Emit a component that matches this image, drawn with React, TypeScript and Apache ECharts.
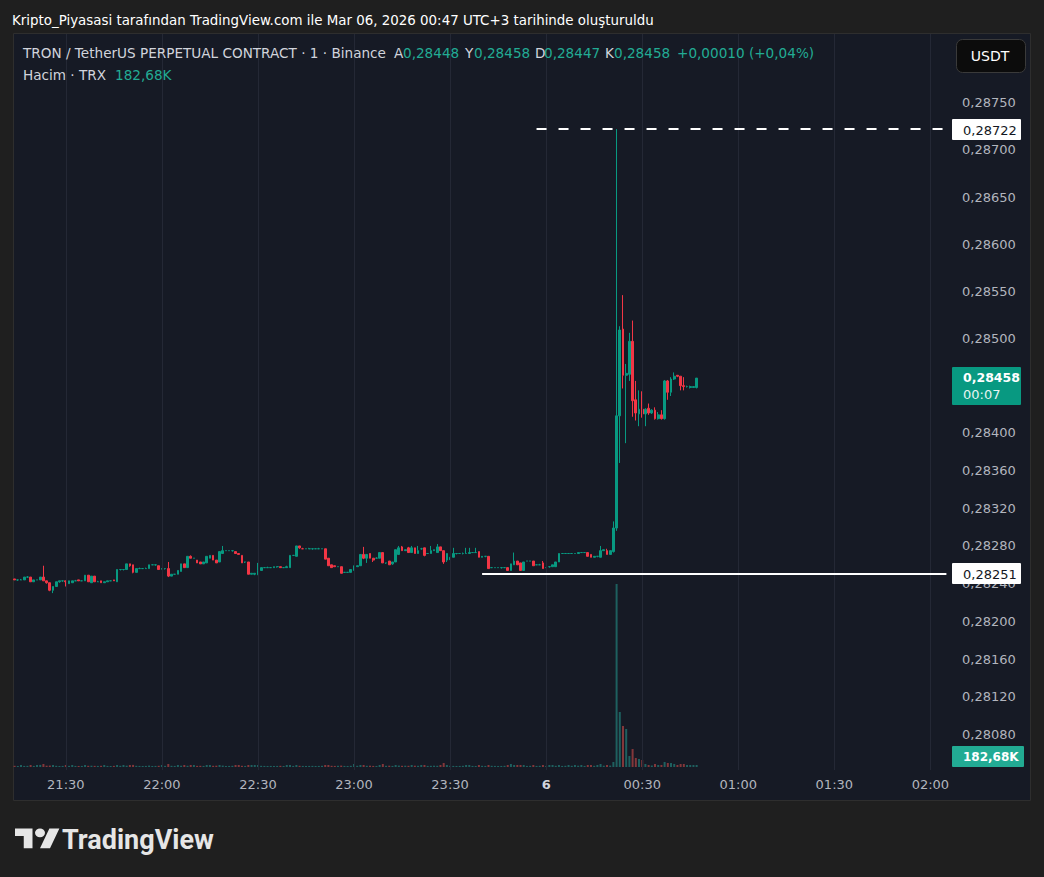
import React, { useEffect, useRef } from 'react';
import * as echarts from 'echarts';

// ---------- categories: one slot per minute, 21:14 .. 02:05 ----------
const START_MINUTE = 21 * 60 + 14;
const SLOT_COUNT = 292;
const times: string[] = Array.from({ length: SLOT_COUNT }, (_, k) => {
  const m = (START_MINUTE + k) % 1440;
  return String(Math.floor(m / 60)).padStart(2, '0') + ':' + String(m % 60).padStart(2, '0');
});

// ---------- tick labels ----------
const timeTicks = ['21:30', '22:00', '22:30', '23:00', '23:30', '00:00', '00:30', '01:00', '01:30', '02:00'];
// grid lines of the price scale
const priceTicks = [
  0.288, 0.2875, 0.287, 0.2865, 0.286, 0.2855, 0.285, 0.2845, 0.284,
  0.2836, 0.2832, 0.2828, 0.2824, 0.282, 0.2816, 0.2812, 0.2808,
];
// labels that are visible on the price scale (0,28800 and 0,28450 sit under the button / badge)
const priceLabels = [
  0.2875, 0.287, 0.2865, 0.286, 0.2855, 0.285, 0.284,
  0.2836, 0.2832, 0.2828, 0.2824, 0.282, 0.2816, 0.2812, 0.2808,
];

// ---------- 1-minute candles: [open, close, low, high] ----------
const candles: number[][] = [
  [.28245,.28244,.28244,.28245],[.28244,.28244,.28243,.28244],[.28244,.28244,.28244,.28245],[.28244,.28247,.28244,.28247],
  [.28247,.28247,.28246,.28248],[.28247,.28242,.28242,.28247],[.28242,.28244,.28242,.28244],[.28244,.28244,.28244,.28244],
  [.28244,.28247,.28244,.28247],[.28247,.28243,.28243,.28259],[.28243,.28241,.28240,.28243],[.28241,.28233,.28232,.28241],
  [.28233,.28237,.28230,.28237],[.28237,.28242,.28237,.28242],[.28242,.28243,.28241,.28243],[.28243,.28243,.28242,.28243],
  [.28243,.28242,.28237,.28243],[.28240,.28243,.28240,.28243],[.28241,.28243,.28241,.28243],[.28243,.28243,.28243,.28244],
  [.28244,.28243,.28243,.28244],[.28243,.28243,.28243,.28243],[.28243,.28249,.28243,.28249],[.28249,.28242,.28242,.28249],
  [.28241,.28248,.28241,.28248],[.28248,.28242,.28242,.28248],[.28242,.28242,.28242,.28243],[.28243,.28241,.28241,.28243],
  [.28241,.28242,.28241,.28242],[.28242,.28243,.28242,.28243],[.28243,.28243,.28243,.28243],[.28244,.28243,.28243,.28244],
  [.28242,.28255,.28242,.28255],[.28255,.28255,.28254,.28255],[.28255,.28255,.28254,.28255],[.28255,.28261,.28255,.28261],
  [.28261,.28259,.28258,.28261],[.28260,.28252,.28251,.28260],[.28252,.28256,.28252,.28256],[.28256,.28256,.28256,.28257],
  [.28256,.28256,.28256,.28256],[.28256,.28256,.28256,.28257],[.28256,.28260,.28256,.28260],[.28260,.28260,.28260,.28260],
  [.28260,.28260,.28259,.28260],[.28259,.28255,.28255,.28259],[.28256,.28256,.28255,.28256],[.28256,.28256,.28255,.28256],
  [.28256,.28248,.28247,.28263],[.28248,.28250,.28248,.28250],[.28250,.28250,.28250,.28250],[.28250,.28254,.28250,.28254],
  [.28253,.28261,.28253,.28261],[.28261,.28257,.28257,.28261],[.28257,.28269,.28257,.28269],[.28269,.28267,.28267,.28270],
  [.28267,.28267,.28267,.28267],[.28265,.28262,.28262,.28265],[.28263,.28261,.28261,.28263],[.28261,.28263,.28261,.28263],
  [.28262,.28269,.28262,.28269],[.28267,.28270,.28267,.28270],[.28270,.28265,.28265,.28270],[.28265,.28262,.28262,.28265],
  [.28263,.28274,.28263,.28274],[.28272,.28275,.28272,.28280],[.28275,.28275,.28275,.28275],[.28275,.28275,.28275,.28275],
  [.28275,.28275,.28274,.28275],[.28274,.28272,.28272,.28274],[.28272,.28271,.28271,.28272],[.28270,.28262,.28262,.28270],
  [.28263,.28263,.28262,.28263],[.28263,.28250,.28250,.28263],[.28250,.28251,.28250,.28251],[.28250,.28251,.28249,.28251],
  [.28250,.28254,.28249,.28262],[.28254,.28257,.28254,.28257],[.28257,.28257,.28257,.28257],[.28257,.28257,.28257,.28258],
  [.28257,.28257,.28257,.28257],[.28257,.28258,.28257,.28258],[.28258,.28258,.28257,.28258],[.28258,.28257,.28257,.28258],
  [.28257,.28257,.28257,.28257],[.28257,.28258,.28257,.28259],[.28257,.28270,.28257,.28270],[.28270,.28270,.28270,.28270],
  [.28269,.28280,.28269,.28280],[.28280,.28278,.28277,.28280],[.28277,.28277,.28277,.28278],[.28277,.28277,.28277,.28277],
  [.28277,.28277,.28277,.28278],[.28277,.28277,.28276,.28277],[.28277,.28277,.28277,.28277],[.28277,.28277,.28277,.28278],
  [.28277,.28277,.28277,.28277],[.28277,.28266,.28266,.28277],[.28267,.28259,.28259,.28267],[.28260,.28257,.28257,.28260],
  [.28259,.28258,.28258,.28259],[.28258,.28258,.28258,.28258],[.28258,.28251,.28251,.28258],[.28252,.28252,.28252,.28252],
  [.28252,.28252,.28252,.28252],[.28252,.28255,.28252,.28255],[.28254,.28259,.28254,.28259],[.28258,.28259,.28258,.28259],
  [.28259,.28271,.28259,.28271],[.28271,.28267,.28266,.28279],[.28267,.28271,.28262,.28271],[.28272,.28267,.28267,.28272],
  [.28267,.28265,.28263,.28267],[.28267,.28267,.28267,.28268],[.28267,.28273,.28267,.28273],[.28273,.28262,.28262,.28273],
  [.28262,.28262,.28261,.28262],[.28264,.28260,.28260,.28264],[.28261,.28263,.28260,.28263],[.28263,.28276,.28263,.28276],
  [.28271,.28278,.28271,.28280],[.28279,.28275,.28275,.28280],[.28275,.28276,.28275,.28276],[.28278,.28273,.28273,.28279],
  [.28273,.28278,.28273,.28280],[.28278,.28272,.28272,.28278],[.28272,.28275,.28272,.28280],[.28277,.28277,.28276,.28278],
  [.28278,.28270,.28269,.28278],[.28272,.28272,.28272,.28272],[.28272,.28275,.28272,.28280],[.28275,.28276,.28275,.28276],
  [.28273,.28279,.28273,.28282],[.28279,.28275,.28275,.28279],[.28275,.28263,.28261,.28275],[.28265,.28272,.28263,.28272],
  [.28266,.28268,.28265,.28268],[.28268,.28272,.28268,.28278],[.28272,.28272,.28271,.28272],[.28272,.28272,.28272,.28272],
  [.28272,.28272,.28271,.28273],[.28272,.28272,.28272,.28278],[.28272,.28273,.28272,.28278],[.28273,.28273,.28273,.28273],
  [.28273,.28273,.28273,.28278],[.28274,.28268,.28268,.28274],[.28268,.28269,.28268,.28269],[.28269,.28269,.28268,.28269],
  [.28269,.28256,.28256,.28269],[.28257,.28257,.28257,.28257],[.28257,.28257,.28257,.28257],[.28257,.28257,.28257,.28257],
  [.28257,.28257,.28256,.28257],[.28257,.28257,.28257,.28257],[.28257,.28254,.28254,.28257],[.28254,.28261,.28254,.28261],
  [.28260,.28264,.28260,.28273],[.28264,.28260,.28260,.28264],[.28262,.28254,.28254,.28262],[.28254,.28263,.28254,.28263],
  [.28264,.28264,.28264,.28264],[.28264,.28264,.28264,.28264],[.28264,.28259,.28259,.28264],[.28260,.28260,.28260,.28260],
  [.28260,.28260,.28260,.28261],[.28262,.28256,.28256,.28264],[.28257,.28257,.28257,.28257],[.28258,.28258,.28257,.28258],
  [.28258,.28260,.28258,.28260],[.28258,.28263,.28258,.28263],[.28263,.28272,.28263,.28272],[.28272,.28272,.28272,.28272],
  [.28272,.28272,.28272,.28272],[.28272,.28272,.28272,.28272],[.28272,.28272,.28272,.28272],[.28272,.28272,.28272,.28272],
  [.28272,.28273,.28272,.28273],[.28273,.28273,.28273,.28273],[.28273,.28273,.28273,.28273],[.28273,.28269,.28269,.28273],
  [.28271,.28268,.28268,.28271],[.28268,.28269,.28268,.28269],[.28269,.28269,.28268,.28269],[.28268,.28275,.28268,.28280],
  [.28275,.28276,.28275,.28276],[.28275,.28271,.28271,.28277],[.28271,.28275,.28271,.28275],[.28274,.28299,.28273,.28306],
  [.28299,.28418,.28296,.28722],[.28418,.28509,.28368,.28513],[.28510,.28461,.28447,.28546],[.28461,.28463,.28389,.28473],
  [.28462,.28497,.28455,.28506],[.28497,.28434,.28417,.28519],[.28435,.28421,.28413,.28455],[.28420,.28425,.28407,.28445],
  [.28425,.28420,.28416,.28444],[.28420,.28425,.28407,.28426],[.28426,.28421,.28419,.28431],[.28421,.28424,.28420,.28425],
  [.28424,.28415,.28414,.28427],[.28415,.28419,.28414,.28422],[.28419,.28415,.28414,.28424],[.28415,.28455,.28414,.28456],
  [.28455,.28443,.28435,.28456],[.28443,.28457,.28439,.28459],[.28457,.28460,.28456,.28464],[.28461,.28460,.28459,.28461],
  [.28460,.28450,.28445,.28460],[.28450,.28449,.28445,.28459],[.28449,.28449,.28448,.28450],[.28448,.28449,.28447,.28450],
  [.28448,.28449,.28448,.28449],[.28448,.28458,.28447,.28458],
];

// ---------- volume per candle, thousands of TRX ----------
const volumesK: number[] = [
  110, 95, 180, 100, 105, 180, 100, 180, 190, 270,
  120, 130, 180, 110, 95, 100, 180, 105, 180, 100,
  95, 100, 180, 110, 120, 105, 100, 110, 180, 100,
  95, 105, 180, 110, 180, 120, 180, 190, 110, 100,
  95, 100, 130, 95, 100, 110, 180, 105, 270, 110,
  100, 180, 120, 180, 110, 180, 180, 105, 110, 100,
  180, 180, 110, 120, 180, 130, 95, 100, 110, 180,
  180, 110, 100, 180, 180, 180, 180, 110, 100, 95,
  100, 95, 100, 110, 95, 180, 180, 100, 180, 110,
  100, 95, 100, 105, 95, 100, 110, 180, 180, 110,
  100, 110, 130, 100, 95, 110, 270, 110, 180, 180,
  110, 120, 100, 95, 180, 270, 110, 120, 100, 180,
  130, 110, 120, 110, 180, 120, 110, 180, 180, 100,
  110, 120, 110, 180, 360, 180, 110, 100, 95, 100,
  110, 180, 180, 100, 95, 180, 110, 100, 180, 110,
  100, 95, 100, 110, 180, 270, 180, 180, 180, 180,
  100, 110, 180, 100, 110, 180, 100, 180, 180, 110,
  180, 100, 110, 180, 110, 180, 120, 180, 100, 180,
  180, 110, 180, 270, 120, 180, 130, 450, 16500, 4960,
  3700, 3430, 990, 1620, 810, 720, 630, 270, 180, 135,
  270, 180, 180, 450, 360, 360, 270, 180, 270, 270,
  180, 180, 180, 182.68,
];

// ---------- marked levels ----------
const HIGH_PRICE = 0.28722;
const HIGH_FROM = '23:57';
const LOW_PRICE = 0.28251;
const LOW_FROM = '23:40';
const LAST_PRICE = 0.28458;
const LAST_TIMER = '00:07';
const LAST_VOLUME = '182,68K';

const UP = '#089981';
const DOWN = '#f23645';
const VOL_UP = 'rgba(38,166,154,0.5)';
const VOL_DOWN = 'rgba(239,83,80,0.5)';
const GRID = '#242835';
const AXIS_TEXT = '#b2b5be';
const HEAD_TEXT = '#d1d4dc';
const GREEN_TEXT = '#22ab94';
const FONT = '"DejaVu Sans", sans-serif';

const fmtPrice = (v: number) => v.toFixed(5).replace('.', ',');

const TV_LOGO = 'M14 22H7V11H0V4h14v18zM28 22h-8l7.5-18h8L28 22zM24 8a4 4 0 1 0 -8 0a4 4 0 1 0 8 0z';

function txt(id: string, text: string, x: number, y: number, fill: string, size = 13, weight: any = 'normal', align = 'left', family = FONT) {
  return {
    type: 'text', id, x, y, z: 50, silent: true,
    style: { text, fill, fontSize: size, fontWeight: weight, fontFamily: family, align, verticalAlign: 'middle' },
  };
}

function badge(id: string, y: number, w: number, h: number, bg: string, lines: { text: string; fill: string; dy: number; weight?: any; size?: number }[], x = 952) {
  return {
    type: 'group', id, x, y, z: 60,
    children: [
      { type: 'rect', z: 60, shape: { x: 0, y: 0, width: w, height: h, r: 1 }, style: { fill: bg } },
      ...lines.map((l) => ({
        type: 'text', z: 61, x: 11, y: l.dy,
        style: { text: l.text, fill: l.fill, fontSize: l.size || 13, fontWeight: l.weight || 'normal', fontFamily: FONT, verticalAlign: 'middle' },
      })),
    ],
  };
}

export default function App() {
  const ref = useRef<HTMLDivElement>(null);

  useEffect(() => {
    const el = ref.current;
    if (!el) return;
    echarts.graphic.registerShape('tvlogo', echarts.graphic.extendPath(TV_LOGO, {}) as any);
    const chart = echarts.init(el, null, { renderer: 'svg' });

    const option: any = {
      animation: false,
      backgroundColor: '#1f1f1f',
      textStyle: { fontFamily: FONT },
      grid: [
        { left: 13, right: 96, top: 34, bottom: 107 },
        { left: 13, right: 96, top: 584, bottom: 110 },
      ],
      xAxis: [
        {
          type: 'category', gridIndex: 0, data: times, boundaryGap: true,
          axisLine: { show: false }, axisTick: { show: false }, splitLine: { show: false },
          axisLabel: {
            interval: (_i: number, v: string) => timeTicks.indexOf(v) >= 0,
            formatter: (v: string) => (v === '00:00' ? '{d|6}' : v),
            color: AXIS_TEXT, fontSize: 13, fontFamily: FONT, margin: 8,
            rich: { d: { fontWeight: 'bold', color: HEAD_TEXT, fontSize: 13, fontFamily: FONT } },
          },
        },
        { type: 'category', gridIndex: 1, data: times, boundaryGap: true, show: false },
      ],
      yAxis: [
        {
          type: 'value', gridIndex: 0, position: 'right', min: 0.280424, max: 0.288229,
          axisLine: { show: false }, axisTick: { show: false }, splitLine: { show: false },
          axisLabel: {
            customValues: priceLabels, formatter: fmtPrice, color: AXIS_TEXT,
            fontSize: 13, fontFamily: FONT, margin: 14, align: 'left',
          },
        },
        { type: 'value', gridIndex: 1, min: 0, max: 16500, show: false },
      ],
      series: [
        {
          name: 'grid', type: 'line', xAxisIndex: 0, yAxisIndex: 0, z: 1, silent: true, clip: false,
          data: candles.map((c) => c[1]), symbol: 'none', showSymbol: false, lineStyle: { opacity: 0 },
          markLine: {
            silent: true, animation: false, symbol: ['none', 'none'], label: { show: false },
            lineStyle: { color: GRID, width: 1, type: 'solid' },
            data: [...priceTicks.map((v) => ({ yAxis: v })), ...timeTicks.map((t) => ({ xAxis: t }))],
          },
        },
        {
          name: 'TRXUSDT.P', type: 'candlestick', xAxisIndex: 0, yAxisIndex: 0, z: 3, clip: false,
          data: candles, barWidth: 2.2,
          itemStyle: { color: UP, color0: DOWN, borderColor: UP, borderColor0: DOWN, borderWidth: 1 },
          markLine: {
            silent: true, animation: false, symbol: ['none', 'none'], label: { show: false },
            data: [
              { yAxis: LAST_PRICE, lineStyle: { color: UP, width: 1, type: [1, 2] } },
              [
                { coord: [HIGH_FROM, HIGH_PRICE], lineStyle: { color: '#ffffff', width: 2, type: [10, 12] } },
                { coord: [times[SLOT_COUNT - 1], HIGH_PRICE] },
              ],
              [
                { coord: [LOW_FROM, LOW_PRICE], lineStyle: { color: '#ffffff', width: 2, type: 'solid' } },
                { coord: [times[SLOT_COUNT - 1], LOW_PRICE] },
              ],
            ],
          },
        },
        {
          name: 'Hacim', type: 'bar', xAxisIndex: 1, yAxisIndex: 1, barWidth: 2, z: 2,
          data: volumesK.map((v, i) => ({
            value: v,
            itemStyle: { color: candles[i][1] >= candles[i][0] ? VOL_UP : VOL_DOWN },
          })),
        },
      ],
    };
    chart.setOption(option);

    const yHigh = chart.convertToPixel({ yAxisIndex: 0 } as any, HIGH_PRICE) as number;
    const yLow = chart.convertToPixel({ yAxisIndex: 0 } as any, LOW_PRICE) as number;
    const yLast = chart.convertToPixel({ yAxisIndex: 0 } as any, LAST_PRICE) as number;

    const elements: any[] = [
      {
        type: 'rect', id: 'panel', z: -10, silent: true,
        shape: { x: 13.5, y: 33.5, width: 1017, height: 767 },
        style: { fill: '#161a25', stroke: '#2e2e2e', lineWidth: 1 },
      },
      txt('title', 'Kripto_Piyasasi tarafından TradingView.com ile Mar 06, 2026 00:47 UTC+3 tarihinde oluşturuldu', 12, 20, '#ffffff', 13.4),
      txt('sym', 'TRON / TetherUS PERPETUAL CONTRACT · 1 · Binance', 23, 53, HEAD_TEXT, 13.6),
      txt('oL', 'A', 394, 53, HEAD_TEXT, 13.6), txt('oV', '0,28448', 403, 53, GREEN_TEXT, 13.6),
      txt('hL', 'Y', 465, 53, HEAD_TEXT, 13.6), txt('hV', '0,28458', 474, 53, GREEN_TEXT, 13.6),
      txt('lL', 'D', 535, 53, HEAD_TEXT, 13.6), txt('lV', '0,28447', 544, 53, GREEN_TEXT, 13.6),
      txt('cL', 'K', 605, 53, HEAD_TEXT, 13.6), txt('cV', '0,28458', 614, 53, GREEN_TEXT, 13.6),
      txt('chg', '+0,00010 (+0,04%)', 677, 53, GREEN_TEXT, 13.6),
      txt('volL', 'Hacim · TRX', 23, 75, HEAD_TEXT, 13.6),
      txt('volV', LAST_VOLUME, 115, 75, GREEN_TEXT, 13.6),
      {
        type: 'group', id: 'usdt', z: 60,
        children: [
          { type: 'rect', z: 60, shape: { x: 956.5, y: 39.5, width: 69, height: 33, r: 6 }, style: { fill: '#0c0c0c', stroke: '#3a3a3a', lineWidth: 1 } },
          { type: 'text', z: 61, x: 990, y: 56, style: { text: 'USDT', fill: '#ffffff', fontSize: 14, fontFamily: FONT, align: 'center', verticalAlign: 'middle' } },
        ],
      },
      badge('bHigh', Math.round(yHigh) - 10, 69, 21, '#ffffff', [{ text: fmtPrice(HIGH_PRICE), fill: '#131722', dy: 11 }]),
      badge('bLow', Math.round(yLow) - 10, 69, 21, '#ffffff', [{ text: fmtPrice(LOW_PRICE), fill: '#131722', dy: 11 }]),
      badge('bLast', Math.round(yLast) - 11, 69, 38, UP, [
        { text: fmtPrice(LAST_PRICE), fill: '#ffffff', dy: 10, weight: 'bold', size: 12.5 },
        { text: LAST_TIMER, fill: '#e6f4f1', dy: 27 },
      ]),
      badge('bVol', 746, 72, 21, GREEN_TEXT, [{ text: LAST_VOLUME, fill: '#ffffff', dy: 11, weight: 'bold', size: 12 }]),
      { type: 'tvlogo', id: 'logo', x: 15, y: 824, scaleX: 1.25, scaleY: 1.1, z: 50, style: { fill: '#e6e6e6' } },
      txt('brand', 'TradingView', 62, 840, '#e6e6e6', 27, 'bold', 'left', 'Roboto, sans-serif'),
    ];
    chart.setOption({ graphic: { elements } });

    return () => chart.dispose();
  }, []);

  return (
    <div
      ref={ref}
      style={{ position: 'fixed', left: 0, top: 0, width: 1044, height: 877, background: '#1f1f1f' }}
    />
  );
}
